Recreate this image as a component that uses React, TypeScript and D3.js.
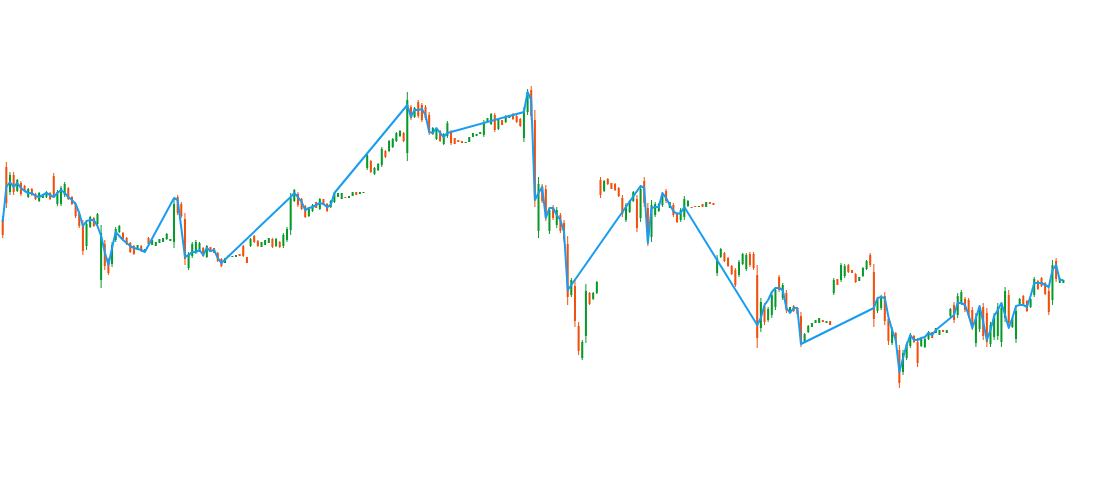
import React from "react";
import * as d3 from "d3";

const highs: number[] = [
  284,338,328,328,321,319,315,312,312,307,
  308,305,309,308,327,310,314,318,313,304,
  298,288,280,280,284,283,287,275,260,242,
  258,273,275,268,263,258,255,255,255,251,
  263,260,258,261,262,267,261,302,305,298,
  287,248,258,260,258,253,255,253,252,248,
  242,242,245,244,245,246,255,243,262,265,
  260,258,260,262,262,262,259,267,273,307,
  311,308,302,295,293,296,298,302,301,297,
  300,308,307,307,303,304,308,308,308,308,
  347,340,333,337,353,350,360,362,368,370,
  368,408,395,393,400,397,395,388,373,372,
  370,367,379,370,362,360,359,358,363,367,
  366,368,380,382,387,387,382,380,385,385,
  387,385,382,393,411,414,390,323,316,315,
  293,295,293,287,280,264,222,220,178,160,
  216,208,208,219,323,320,322,317,317,313,
  305,297,300,309,305,315,323,297,300,298,
  297,308,311,298,297,288,292,304,300,293,
  294,294,296,298,298,297,245,252,248,243,
  235,232,240,247,247,248,248,235,202,197,
  193,208,213,225,217,210,193,195,193,188,
  167,175,177,180,182,180,179,179,222,221,
  237,236,236,230,227,223,233,240,247,236,
  203,205,208,185,173,168,155,150,158,167,
  165,162,162,162,169,168,172,170,170,170,
  192,198,207,210,203,202,193,187,195,197,
  192,178,187,197,197,213,210,183,193,202,
  205,200,202,223,220,223,218,212,240,242,
  222,220,
];

const lows: number[] = [
  262,292,305,305,308,304,308,302,304,300,
  298,302,302,300,302,294,294,303,300,295,
  282,272,245,250,272,273,275,212,230,225,
  233,258,267,260,255,247,245,250,248,248,
  255,255,254,257,258,260,259,252,285,282,
  235,230,242,246,248,243,242,248,247,238,
  233,237,243,243,243,244,243,237,253,257,
  253,253,255,257,252,253,252,252,258,265,
  298,293,290,282,283,288,292,290,295,288,
  292,297,303,301,302,302,304,305,306,307,
  330,327,325,329,333,342,348,352,358,363,
  358,339,380,382,382,378,380,365,365,360,
  358,355,362,355,356,358,357,357,358,363,
  364,366,363,378,375,368,370,375,377,382,
  380,377,373,358,385,380,293,262,297,279,
  266,280,272,267,258,195,203,173,145,140,
  157,195,200,206,302,308,315,311,309,303,
  283,278,287,298,268,278,293,254,258,283,
  288,293,297,292,283,277,278,280,293,292,
  293,293,293,293,296,295,224,242,238,233,
  225,213,223,235,229,233,230,152,168,175,
  178,182,190,208,200,187,187,188,185,153,
  157,167,173,177,177,178,177,175,205,215,
  218,222,227,227,217,219,223,230,233,173,
  187,190,175,155,155,158,112,125,140,152,
  157,133,153,152,160,162,167,165,168,167,
  183,177,182,195,188,182,170,153,168,160,
  153,153,160,160,153,178,172,172,157,195,
  195,188,192,203,210,213,205,185,195,218,
  217,217,
];

const opens: number[] = [
  281,333,308,325,309,317,314,303,311,306,
  299,302,303,307,324,296,296,305,312,303,
  296,286,276,254,273,282,276,220,256,240,
  236,260,268,267,262,257,254,250,254,248,
  262,255,254,257,258,261,259,258,303,296,
  281,232,244,248,249,252,243,253,252,247,
  241,237,243,243,243,246,254,243,254,264,
  259,253,255,257,261,254,258,254,260,270,
  299,306,301,294,284,289,298,291,301,296,
  293,298,303,301,303,302,304,308,306,307,
  332,339,326,330,335,349,349,353,359,364,
  367,347,393,383,398,395,393,385,366,361,
  369,356,364,368,362,360,359,357,358,363,
  364,366,365,378,376,385,371,380,378,382,
  386,384,381,362,388,410,380,269,314,311,
  269,293,275,285,277,256,205,214,174,142,
  164,207,201,207,320,309,321,317,316,312,
  302,280,288,299,301,282,319,292,263,285,
  289,295,309,292,295,287,280,283,294,293,
  294,293,296,293,298,297,227,243,247,242,
  234,230,225,236,231,246,246,225,172,194,
  180,185,193,223,202,207,187,194,192,184,
  158,168,173,177,177,180,177,179,207,221,
  220,224,235,230,226,219,224,231,245,228,
  189,192,204,181,157,167,150,128,142,154,
  164,158,154,153,161,168,167,165,170,167,
  184,195,185,197,201,200,190,157,171,193,
  187,156,163,164,158,182,205,173,161,196,
  204,199,193,205,219,222,217,209,200,239,
  217,217,
];

const closes: number[] = [
  265,297,325,308,320,306,309,311,305,301,
  307,305,308,301,305,308,312,316,301,296,
  284,274,249,276,283,274,286,267,234,227,
  255,271,274,261,256,248,246,255,249,251,
  256,260,258,261,262,266,261,296,287,284,
  241,246,256,258,257,244,254,248,247,239,
  234,242,245,244,245,244,244,237,261,258,
  254,258,260,262,253,261,253,265,271,302,
  310,295,291,283,292,295,292,301,295,289,
  299,307,307,307,302,304,308,305,308,308,
  345,328,332,336,351,343,359,361,367,369,
  359,400,382,392,384,380,382,368,372,371,
  359,366,377,357,356,358,357,358,363,367,
  366,368,378,382,386,370,381,375,384,385,
  381,378,374,389,408,384,303,316,299,283,
  290,282,290,269,261,203,220,179,149,158,
  209,196,207,218,305,319,316,311,310,304,
  286,295,299,308,272,311,297,259,295,296,
  296,306,299,298,285,278,290,301,299,292,
  293,294,293,298,296,295,242,251,239,234,
  226,215,238,246,245,235,232,162,198,178,
  191,205,210,210,215,190,193,189,186,157,
  166,174,177,180,182,178,179,175,220,215,
  235,234,228,227,218,223,232,239,235,181,
  201,203,179,159,171,159,117,147,156,165,
  158,137,161,161,168,162,172,170,168,170,
  191,180,204,208,190,184,173,183,192,164,
  158,175,184,193,192,209,177,182,189,201,
  196,189,201,221,211,214,206,188,235,221,
  222,220,
];

// Trend line: runs of consecutive values starting at a candle index
const trendRuns: [number, number[]][] = [
  [0, [278,313,318,313,317,312,309,307,307,304,303,305,307,305,303,307,310,307,303,300,296,287,274,279,280,280,274,264,248,235,252,268,264,260,257,254,252,251,250,248]],
  [47, [302,300,272,243,245,248,248,250,245,252,249,250,242,237]],
  [79, [303,307,303,298,290,292,293,295,297,296,293,295,307]],
  [111, [395,383,390,390,391,385,368,367,372,367,363,367]],
  [143, [388,408,400,300,307,313,282,292,292,285,280,268,210,215]],
  [175, [314,312,257,292,293,293,307,302,295,289,286,287,293]],
  [207, [175,182,195,200,208,212,212,210,192,187,192,192,156]],
  [239, [192,202,203,202,183,170,160,128,142,155,165,160,160,162,163,167,165,170]],
  [260, [182,185,197,197,195,185,172,182,194,178,160,170,184,190,197,185,172,182,194,195,195,193,204,217,217,217,215,213,230,235,220,220]],
];

const W = 1112;
const H = 480;
const UP = "#079a2b";
const DOWN = "#f24f0c";
const LINE = "#1a9cf0";

export default function App() {
  const n = highs.length;
  const x = d3.scaleLinear().domain([0, n - 1]).range([2.7, 1063.4]);
  const y = d3.scaleLinear().domain([100, 420]).range([400, 80]);

  const trendPts: [number, number][] = [];
  trendRuns.forEach(([start, vals]) => {
    vals.forEach((v, k) => trendPts.push([start + k, v]));
  });
  const lineGen = d3
    .line<[number, number]>()
    .x((d) => x(d[0]))
    .y((d) => y(d[1]));

  const candles = d3.range(n).map((i) => {
    const o = opens[i];
    const c = closes[i];
    const up = c >= o;
    const col = up ? UP : DOWN;
    const cx = x(i);
    const top = y(Math.max(o, c));
    const bot = y(Math.min(o, c));
    return (
      <g key={i}>
        <line x1={cx} x2={cx} y1={y(highs[i])} y2={y(lows[i])} stroke={col} strokeWidth={1} />
        <rect x={cx - 1} y={top} width={2} height={Math.max(1, bot - top)} fill={col} />
      </g>
    );
  });

  return (
    <svg
      width={W}
      height={H}
      style={{ position: "absolute", left: 0, top: 0, background: "#ffffff" }}
    >
      <g>{candles}</g>
      <path d={lineGen(trendPts) || ""} fill="none" stroke={LINE} strokeWidth={2} strokeLinejoin="round" />
    </svg>
  );
}
